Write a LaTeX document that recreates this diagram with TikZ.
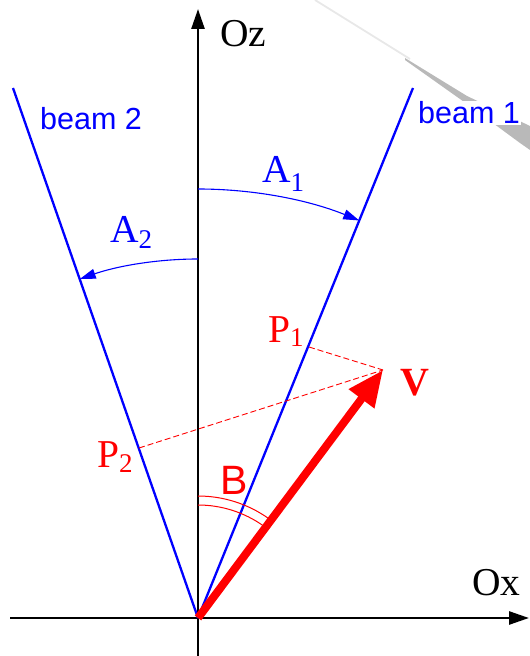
\documentclass[tikz,border=0pt]{standalone}
\usepackage{fontspec}
\setmainfont{Liberation Serif}
\setsansfont{Liberation Sans}
\usetikzlibrary{arrows.meta}
\tikzset{
  axis/.style={line width=2.6pt,draw=black},
  beamline/.style={line width=2.3pt,draw=blue},
  anglearc/.style={line width=1.1pt,draw=blue,-{Triangle[length=16pt,width=10pt]}},
  projline/.style={line width=0.9pt,draw=red,dash pattern=on 6pt off 3pt},
  lbl/.style={inner sep=0pt,anchor=base west},
  serif/.style={font=\fontsize{39.5}{42}\selectfont},
  sanslbl/.style={font=\sffamily\fontsize{30.5}{33}\selectfont,text=blue}
}
\newcommand{\sbs}[2]{\raisebox{-#1}{\fontsize{27}{27}\selectfont #2}}
\begin{document}
\begin{tikzpicture}[x=1pt,y=1pt]
\useasboundingbox (0,0) rectangle (530,656);
% page-curl shading in the corner
\draw[gray!18,line width=1.8pt] (315,656) -- (410,597);
\fill[gray!55] (405,598) -- (467,560) -- (530,530) -- (530,506) -- (520,513) -- (467,552) -- (405,596) -- cycle;
% coordinates
\coordinate (O) at (198,38);
\coordinate (zt) at (198,647);
\coordinate (zb) at (198,0);
\coordinate (xl) at (10,38);
\coordinate (xr) at (529,38);
\coordinate (b1) at (413,568);
\coordinate (b2) at (13,568);
\coordinate (V) at (383,286);
\coordinate (P1) at (309,309);
\coordinate (P2) at (139,208);
% axes
\draw[axis,-{Triangle[length=20pt,width=13pt]}] (zb) -- (zt);
\draw[axis,-{Triangle[length=20pt,width=13pt]}] (xl) -- (xr);
% beams
\draw[beamline] (O) -- (b1);
\draw[beamline] (O) -- (b2);
% angle arcs
\draw[anglearc] (O) ++(90:429) arc[start angle=90,end angle=67.92,radius=429];
\draw[anglearc] (O) ++(90:359) arc[start angle=90,end angle=109.24,radius=359];
\draw[red,line width=1pt] (O) ++(90:122) arc[start angle=90,end angle=54.8,radius=122];
\draw[red,line width=1pt] (O) ++(90:113) arc[start angle=90,end angle=54.5,radius=113];
% projections
\draw[projline] (P1) -- (V);
\draw[projline] (P2) -- (V);
% vector V
\draw[red,line width=8pt,-{Triangle[length=36pt,width=30pt]}] (O) -- (V);
% labels
\node[lbl,serif] (lz) at (220,609) {Oz};
\node[lbl,serif] (lx) at (472,60) {Ox};
\node[lbl,sanslbl] (lb2) at (40,526) {beam 2};
\node[lbl,sanslbl,fill=white,inner sep=1pt] (lb1) at (417,532) {beam 1};
\node[lbl,serif,text=blue] (la1) at (262,473) {A\sbs{9pt}{1}};
\node[lbl,serif,text=blue] (la2) at (110,413) {A\sbs{6pt}{2}};
\node[lbl,serif,text=red] (lp1) at (268,313) {P\sbs{4pt}{1}};
\node[lbl,serif,text=red] (lp2) at (97,188) {P\sbs{5pt}{2}};
\node[lbl,serif,text=red,font=\bfseries\fontsize{40}{42}\selectfont] (lv) at (400,260) {V};
\node[lbl,text=red,font=\sffamily\fontsize{41}{42}\selectfont] (lbb) at (220,161) {B};
\end{tikzpicture}
\end{document}
